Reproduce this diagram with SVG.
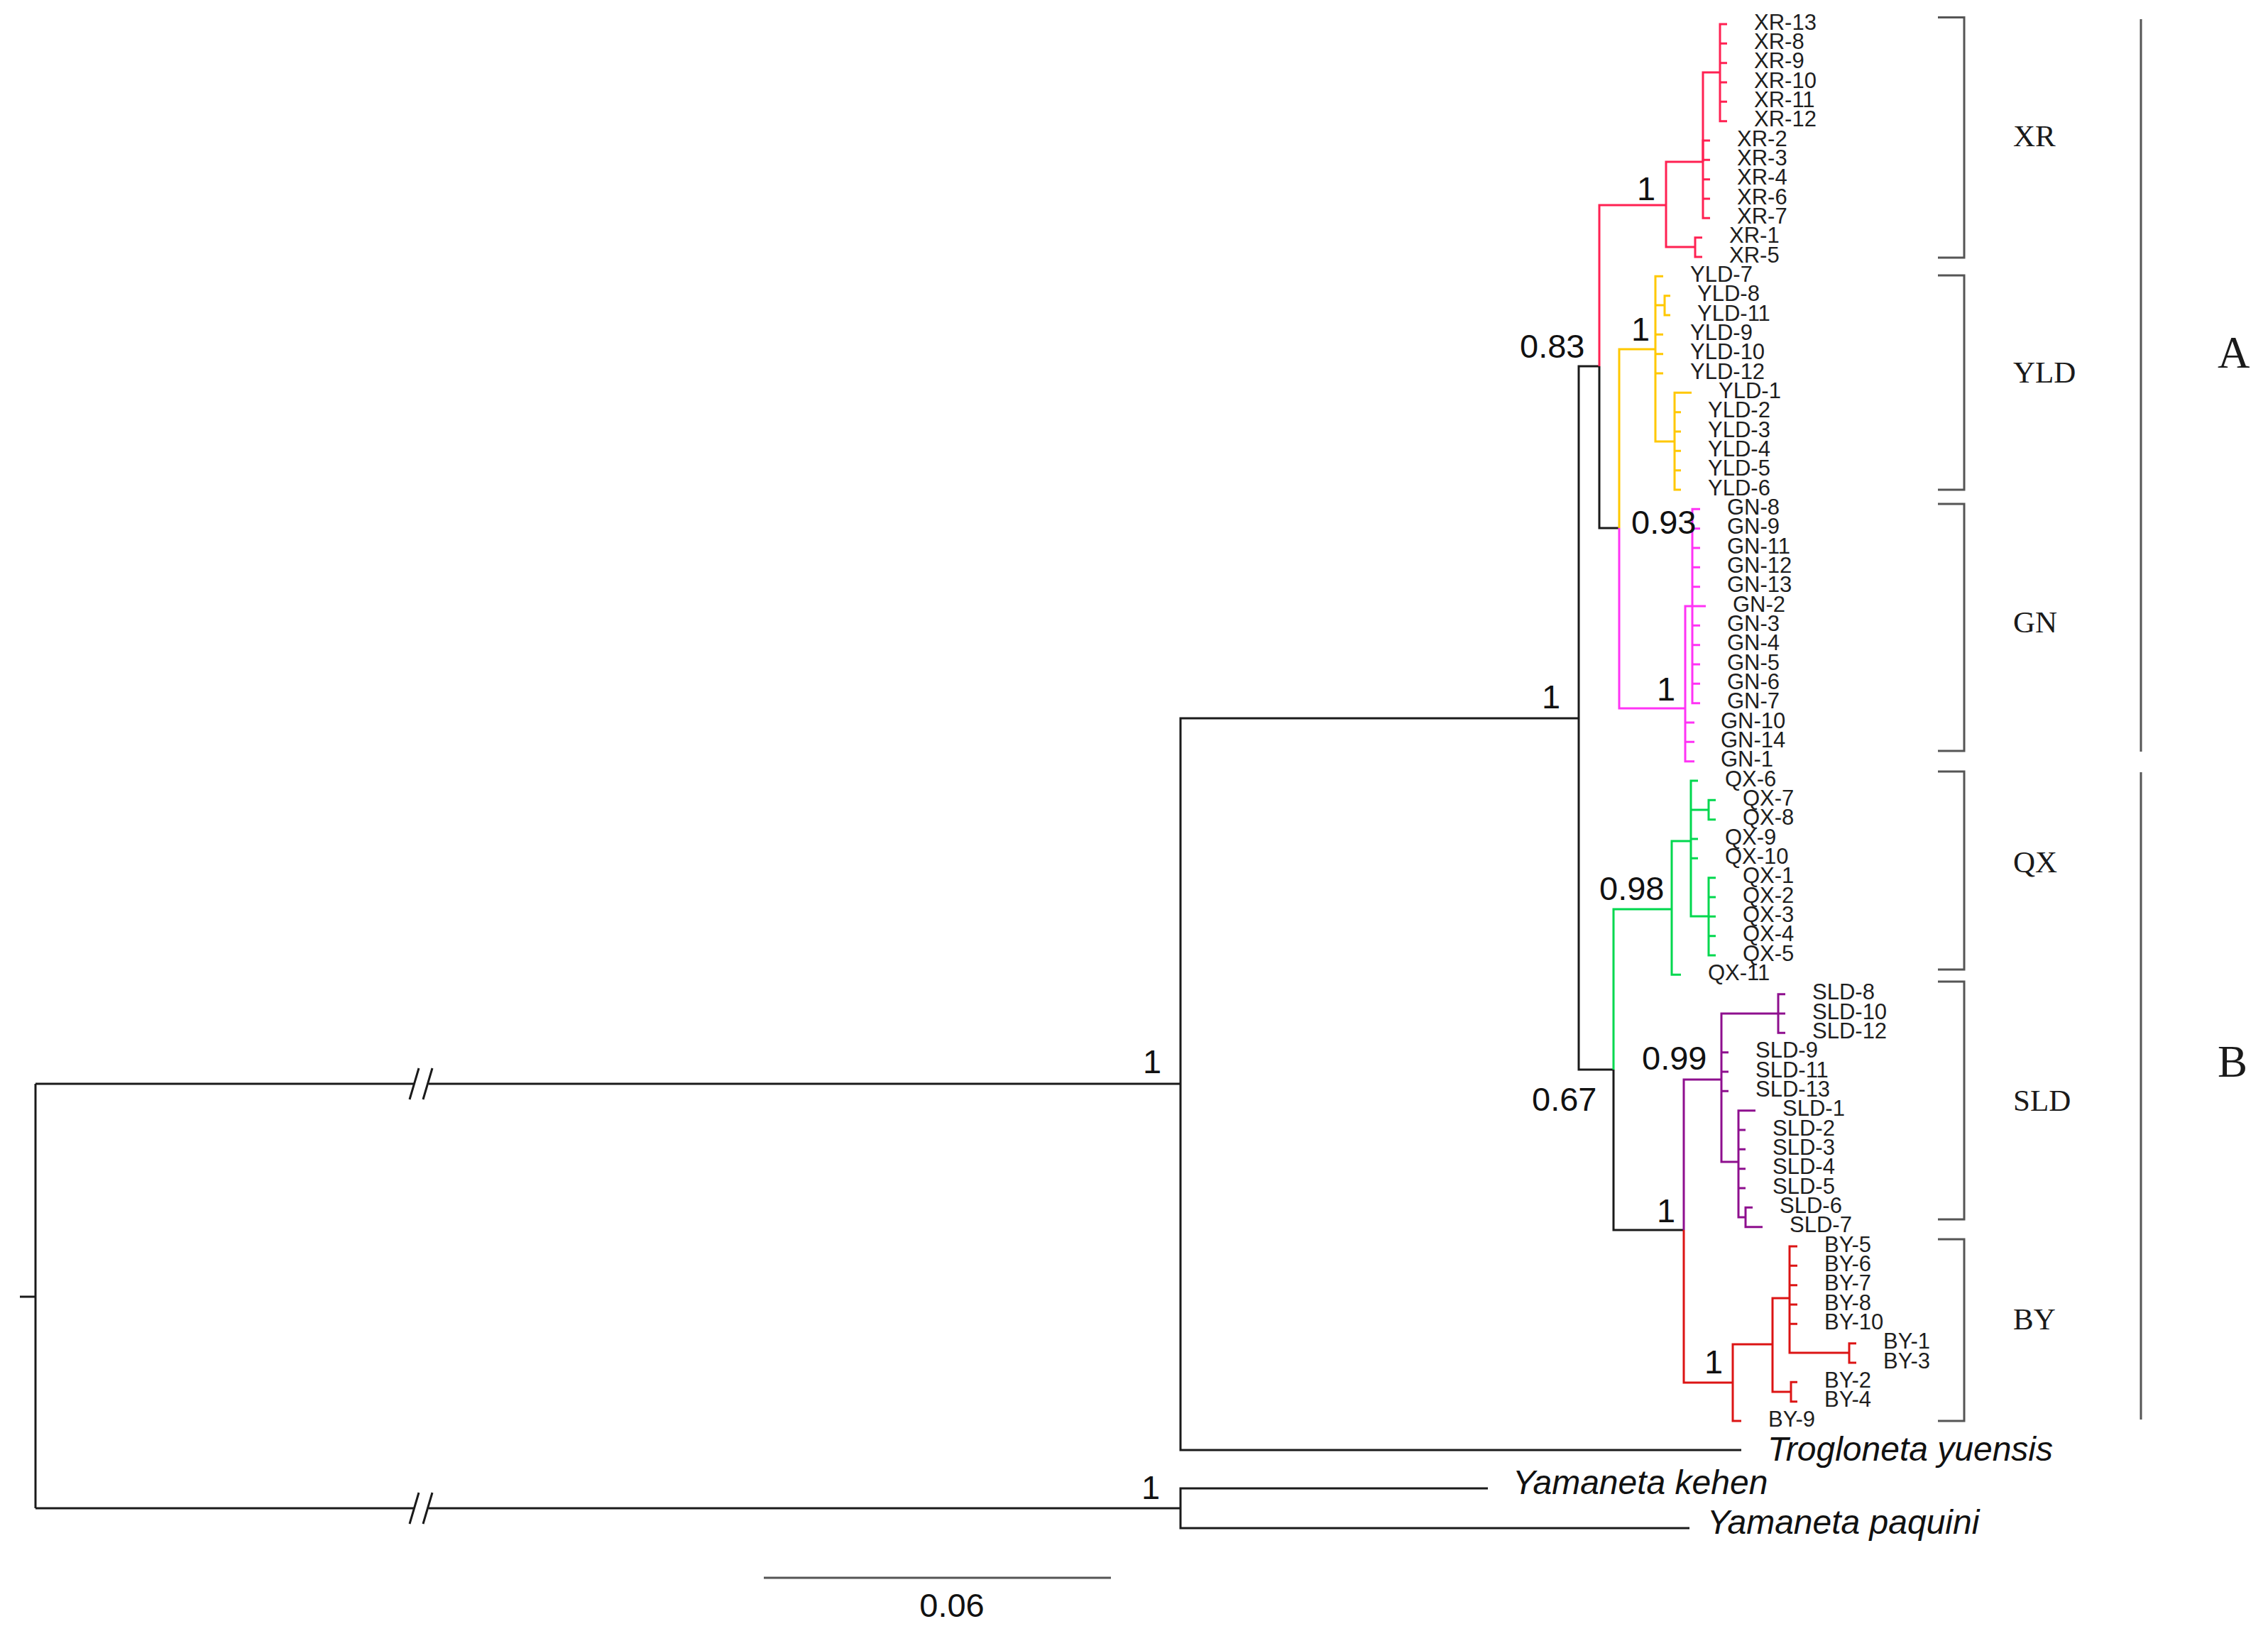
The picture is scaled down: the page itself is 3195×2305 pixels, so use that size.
<svg xmlns="http://www.w3.org/2000/svg" width="3195" height="2305" viewBox="0 0 3195 2305">
<style>
.br{fill:none;stroke-width:3;stroke-linejoin:miter}
.k{stroke:#1a1a1a}
.xr{stroke:#FF2152}
.yl{stroke:#FFC800}
.gn{stroke:#FF33F5}
.qx{stroke:#00D84E}
.sl{stroke:#8E0F8E}
.by{stroke:#DC1414}
.lf{font-family:"Liberation Sans",Arial,sans-serif;font-size:31px;fill:#1e1e1e}
.sp{font-family:"Liberation Sans",Arial,sans-serif;font-size:47px;fill:#111}
.og{font-family:"Liberation Sans",Arial,sans-serif;font-size:48px;font-style:italic;fill:#111}
.cl{font-family:"Liberation Serif","Times New Roman",serif;font-size:43px;fill:#1a1a1a}
.gr{font-family:"Liberation Serif","Times New Roman",serif;font-size:63px;fill:#1a1a1a}
.bk{fill:none;stroke:#555;stroke-width:3}
</style>
<rect width="3195" height="2305" fill="#fff"/>
<g id="connectors">
  <path class="br k" d="M28 1827 H50 M50 1527 V2125"/>
  <path class="br k" d="M50 1527 H584 M604 1527 H1663"/>
  <path class="br k" d="M50 2125 H584 M604 2125 H1663"/>
  <path class="br k" d="M577 1549 L590 1505 M596 1549 L609 1505 M577 2147 L590 2103 M596 2147 L609 2103"/>
  <path class="br k" d="M1663 1527 V1012 H2224 M1663 1527 V2043 H2453"/>
  <path class="br k" d="M1663 2125 V2097 H2096 M1663 2125 V2153 H2380"/>
  <path class="br k" d="M2224 1012 V516 H2253 M2224 1012 V1507 H2273"/>
  <path class="br k" d="M2253 516 V744 H2281"/>
  <path class="br k" d="M2273 1507 V1733 H2372"/>
  <path class="br xr" d="M2253 516 V289 H2347 M2347 289 V228 H2399 M2347 289 V348 H2388 M2399 228 V102 H2423"/>
  <path class="br xr" d="M2423 102 V34 H2433 M2423 102 V61.3 H2433 M2423 102 V88.7 H2433 M2423 102 V116 H2433 M2423 102 V143.3 H2433 M2423 102 V170.7 H2433"/>
  <path class="br xr" d="M2399 228 V198 H2409 M2399 228 V225.3 H2409 M2399 228 V252.7 H2409 M2399 228 V280 H2409 M2399 228 V307.3 H2409"/>
  <path class="br xr" d="M2388 348 V334.7 H2398 M2388 348 V362 H2398"/>
  <path class="br yl" d="M2281 744 V492 H2332 M2332 492 V389.3 H2343 M2332 492 V430 H2345 M2345 430 V416.7 H2353 M2345 430 V444 H2353 M2332 492 V471.3 H2343 M2332 492 V498.7 H2343 M2332 492 V526 H2343 M2332 492 V622 H2359"/>
  <path class="br yl" d="M2359 622 V553.3 H2383 M2359 622 V580.7 H2368 M2359 622 V608 H2368 M2359 622 V635.3 H2368 M2359 622 V662.7 H2368 M2359 622 V690 H2368"/>
  <path class="br gn" d="M2281 744 V998 H2374 M2374 998 V854 H2384 M2374 998 V1018 H2387 M2374 998 V1045.3 H2387 M2374 998 V1072.7 H2387"/>
  <path class="br gn" d="M2384 854 V717.3 H2395 M2384 854 V744.7 H2395 M2384 854 V772 H2395 M2384 854 V799.3 H2395 M2384 854 V826.7 H2395 M2384 854 H2403 M2384 854 V881.3 H2395 M2384 854 V908.7 H2395 M2384 854 V936 H2395 M2384 854 V963.3 H2395 M2384 854 V990.7 H2395"/>
  <path class="br qx" d="M2273 1507 V1281 H2355 M2355 1281 V1185 H2382 M2355 1281 V1373.3 H2368 M2382 1185 V1100 H2392 M2382 1185 V1141 H2407 M2382 1185 V1182 H2392 M2382 1185 V1209.3 H2392 M2382 1185 V1291 H2407"/>
  <path class="br qx" d="M2407 1141 V1127.3 H2417 M2407 1141 V1154.7 H2417 M2407 1291 V1236.7 H2417 M2407 1291 V1264 H2417 M2407 1291 V1291.3 H2417 M2407 1291 V1318.7 H2417 M2407 1291 V1346 H2417"/>
  <path class="br sl" d="M2372 1733 V1521 H2425 M2425 1521 V1428 H2505 M2425 1521 V1482.7 H2435 M2425 1521 V1510 H2435 M2425 1521 V1537.3 H2435 M2425 1521 V1637 H2449"/>
  <path class="br sl" d="M2505 1428 V1400.7 H2515 M2505 1428 H2515 M2505 1428 V1455.3 H2515"/>
  <path class="br sl" d="M2449 1637 V1564.7 H2473 M2449 1637 V1592 H2459 M2449 1637 V1619.3 H2459 M2449 1637 V1646.7 H2459 M2449 1637 V1674 H2459 M2449 1637 V1715 H2459 M2459 1715 V1701.3 H2469 M2459 1715 V1728.7 H2483"/>
  <path class="br by" d="M2372 1733 V1948 H2441 M2441 1948 V1894 H2497 M2441 1948 V2002 H2453 M2497 1894 V1829 H2521 M2497 1894 V1961 H2523"/>
  <path class="br by" d="M2521 1829 V1756 H2532 M2521 1829 V1783.3 H2532 M2521 1829 V1810.7 H2532 M2521 1829 V1838 H2532 M2521 1829 V1865.3 H2532 M2521 1829 V1906 H2605 M2605 1906 V1892.7 H2615 M2605 1906 V1920 H2615"/>
  <path class="br by" d="M2523 1961 V1947.3 H2532 M2523 1961 V1974.7 H2532"/>
  <path d="M1076 2223 H1565" stroke="#555" stroke-width="3" fill="none"/>
</g>
<g id="support-values">
  <text class="sp" x="1610" y="1512">1</text>
  <text class="sp" x="2172" y="998">1</text>
  <text class="sp" x="2141" y="504">0.83</text>
  <text class="sp" x="2306" y="282">1</text>
  <text class="sp" x="2298" y="480">1</text>
  <text class="sp" x="2298" y="752">0.93</text>
  <text class="sp" x="2334" y="987">1</text>
  <text class="sp" x="2253" y="1268">0.98</text>
  <text class="sp" x="2158" y="1565">0.67</text>
  <text class="sp" x="2313" y="1507">0.99</text>
  <text class="sp" x="2334" y="1722">1</text>
  <text class="sp" x="2401" y="1935">1</text>
  <text class="sp" x="1608" y="2112">1</text>
  <text class="sp" x="1341" y="2278" text-anchor="middle">0.06</text>
</g>
<g id="taxa-XR">
  <text class="lf" x="2471" y="41.5">XR-13</text>
  <text class="lf" x="2471" y="68.8">XR-8</text>
  <text class="lf" x="2471" y="96.2">XR-9</text>
  <text class="lf" x="2471" y="123.5">XR-10</text>
  <text class="lf" x="2471" y="150.8">XR-11</text>
  <text class="lf" x="2471" y="178.2">XR-12</text>
  <text class="lf" x="2447" y="205.5">XR-2</text>
  <text class="lf" x="2447" y="232.8">XR-3</text>
  <text class="lf" x="2447" y="260.2">XR-4</text>
  <text class="lf" x="2447" y="287.5">XR-6</text>
  <text class="lf" x="2447" y="314.8">XR-7</text>
  <text class="lf" x="2436" y="342.2">XR-1</text>
  <text class="lf" x="2436" y="369.5">XR-5</text>
</g>
<g id="taxa-YLD">
  <text class="lf" x="2381" y="396.8">YLD-7</text>
  <text class="lf" x="2391" y="424.2">YLD-8</text>
  <text class="lf" x="2391" y="451.5">YLD-11</text>
  <text class="lf" x="2381" y="478.8">YLD-9</text>
  <text class="lf" x="2381" y="506.2">YLD-10</text>
  <text class="lf" x="2381" y="533.5">YLD-12</text>
  <text class="lf" x="2421" y="560.8">YLD-1</text>
  <text class="lf" x="2406" y="588.2">YLD-2</text>
  <text class="lf" x="2406" y="615.5">YLD-3</text>
  <text class="lf" x="2406" y="642.8">YLD-4</text>
  <text class="lf" x="2406" y="670.2">YLD-5</text>
  <text class="lf" x="2406" y="697.5">YLD-6</text>
</g>
<g id="taxa-GN">
  <text class="lf" x="2433" y="724.8">GN-8</text>
  <text class="lf" x="2433" y="752.2">GN-9</text>
  <text class="lf" x="2433" y="779.5">GN-11</text>
  <text class="lf" x="2433" y="806.8">GN-12</text>
  <text class="lf" x="2433" y="834.2">GN-13</text>
  <text class="lf" x="2441" y="861.5">GN-2</text>
  <text class="lf" x="2433" y="888.8">GN-3</text>
  <text class="lf" x="2433" y="916.2">GN-4</text>
  <text class="lf" x="2433" y="943.5">GN-5</text>
  <text class="lf" x="2433" y="970.8">GN-6</text>
  <text class="lf" x="2433" y="998.2">GN-7</text>
  <text class="lf" x="2424" y="1025.5">GN-10</text>
  <text class="lf" x="2424" y="1052.8">GN-14</text>
  <text class="lf" x="2424" y="1080.2">GN-1</text>
</g>
<g id="taxa-QX">
  <text class="lf" x="2430" y="1107.5">QX-6</text>
  <text class="lf" x="2455" y="1134.8">QX-7</text>
  <text class="lf" x="2455" y="1162.2">QX-8</text>
  <text class="lf" x="2430" y="1189.5">QX-9</text>
  <text class="lf" x="2430" y="1216.8">QX-10</text>
  <text class="lf" x="2455" y="1244.2">QX-1</text>
  <text class="lf" x="2455" y="1271.5">QX-2</text>
  <text class="lf" x="2455" y="1298.8">QX-3</text>
  <text class="lf" x="2455" y="1326.2">QX-4</text>
  <text class="lf" x="2455" y="1353.5">QX-5</text>
  <text class="lf" x="2406" y="1380.8">QX-11</text>
</g>
<g id="taxa-SLD">
  <text class="lf" x="2553" y="1408.2">SLD-8</text>
  <text class="lf" x="2553" y="1435.5">SLD-10</text>
  <text class="lf" x="2553" y="1462.8">SLD-12</text>
  <text class="lf" x="2473" y="1490.2">SLD-9</text>
  <text class="lf" x="2473" y="1517.5">SLD-11</text>
  <text class="lf" x="2473" y="1544.8">SLD-13</text>
  <text class="lf" x="2511" y="1572.2">SLD-1</text>
  <text class="lf" x="2497" y="1599.5">SLD-2</text>
  <text class="lf" x="2497" y="1626.8">SLD-3</text>
  <text class="lf" x="2497" y="1654.2">SLD-4</text>
  <text class="lf" x="2497" y="1681.5">SLD-5</text>
  <text class="lf" x="2507" y="1708.8">SLD-6</text>
  <text class="lf" x="2521" y="1736.2">SLD-7</text>
</g>
<g id="taxa-BY">
  <text class="lf" x="2570" y="1763.5">BY-5</text>
  <text class="lf" x="2570" y="1790.8">BY-6</text>
  <text class="lf" x="2570" y="1818.2">BY-7</text>
  <text class="lf" x="2570" y="1845.5">BY-8</text>
  <text class="lf" x="2570" y="1872.8">BY-10</text>
  <text class="lf" x="2653" y="1900.2">BY-1</text>
  <text class="lf" x="2653" y="1927.5">BY-3</text>
  <text class="lf" x="2570" y="1954.8">BY-2</text>
  <text class="lf" x="2570" y="1982.2">BY-4</text>
  <text class="lf" x="2491" y="2009.5">BY-9</text>
</g>
<g id="outgroups">
  <text class="og" x="2490" y="2058">Trogloneta yuensis</text>
  <text class="og" x="2131" y="2105">Yamaneta kehen</text>
  <text class="og" x="2405" y="2161">Yamaneta paquini</text>
</g>
<g id="clade-XR"><path class="bk" d="M2730 24.5 H2767 V363 H2730"/><text class="cl" x="2836" y="206">XR</text></g>
<g id="clade-YLD"><path class="bk" d="M2730 388 H2767 V690 H2730"/><text class="cl" x="2836" y="539">YLD</text></g>
<g id="clade-GN"><path class="bk" d="M2730 710 H2767 V1058 H2730"/><text class="cl" x="2836" y="891">GN</text></g>
<g id="clade-QX"><path class="bk" d="M2730 1087 H2767 V1366 H2730"/><text class="cl" x="2836" y="1229">QX</text></g>
<g id="clade-SLD"><path class="bk" d="M2730 1383 H2767 V1718 H2730"/><text class="cl" x="2836" y="1565">SLD</text></g>
<g id="clade-BY"><path class="bk" d="M2730 1746 H2767 V2002 H2730"/><text class="cl" x="2836" y="1873">BY</text></g>
<g id="group-A"><path class="bk" d="M3016 27 V1059"/><text class="gr" x="3124" y="518">A</text></g>
<g id="group-B"><path class="bk" d="M3016 1088 V2000"/><text class="gr" x="3124" y="1517">B</text></g>
</svg>
